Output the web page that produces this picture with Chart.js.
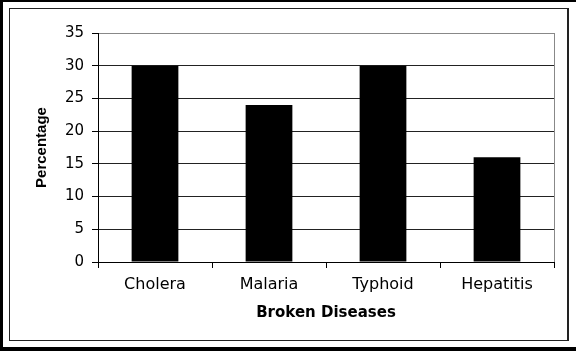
<!DOCTYPE html>
<html>
<head>
<meta charset="utf-8">
<script src="https://cdn.jsdelivr.net/npm/chart.js@4"></script>
<style>
  html, body { margin: 0; padding: 0; background: #fff; }
  #wrap { position: relative; width: 576px; height: 351px; overflow: hidden; }
  /* thick outer frame, then the thin inner box */
  #outer {
    position: absolute; left: 0; top: 0; width: 576px; height: 351px;
    box-sizing: border-box;
    border-top: 2px solid #000; border-left: 3px solid #000; border-bottom: 4px solid #000;
  }
  #inner {
    position: absolute; left: 9px; top: 8px; width: 560px; height: 333px;
    box-sizing: border-box;
    border: 1px solid #222; border-right: 2px solid #222;
  }
  #myChart { position: absolute; left: 0; top: 0; }
</style>
</head>
<body>
<div id="wrap">
  <div id="outer"></div>
  <div id="inner"></div>
  <canvas id="myChart" width="576" height="351"></canvas>
</div>
<script>
// Dados do gráfico
const diseases = ['Cholera', 'Malaria', 'Typhoid', 'Hepatitis'];
const percentages = [30, 24, 30, 16];
const yMax = 35;
const yStep = 5;

const ctx = document.getElementById('myChart').getContext('2d');

new Chart(ctx, {
    type: 'bar',
    data: {
        labels: diseases,
        datasets: [{
            label: 'Percentage',
            data: percentages,
            backgroundColor: '#000',
            borderWidth: 0,
            barPercentage: 0.41,
            categoryPercentage: 1
        }]
    },
    options: {
        responsive: false,
        animation: false,
        layout: {
            padding: { left: 0, top: 33, right: 22, bottom: 0 }
        },
        plugins: {
            legend: { display: false },
            tooltip: { enabled: false }
        },
        scales: {
            x: {
                afterFit: s => { s.height = 89; },
                grid: {
                    offset: true,
                    // a última linha (sem tick) fecha o lado direito do gráfico
                    color: c => c.type === 'tick' ? 'rgba(0,0,0,0)' : '#888',
                    tickColor: '#000',
                    tickLength: 6,
                    lineWidth: 1
                },
                border: { color: '#000', width: 1 },
                ticks: {
                    color: '#000',
                    padding: 7,
                    font: { family: 'DejaVu Sans', size: 16 }
                },
                title: {
                    display: true,
                    text: 'Broken Diseases',
                    color: '#000',
                    padding: { top: 0, bottom: 29 },
                    font: { family: 'DejaVu Sans', size: 15, weight: 'bold', lineHeight: 1.2 }
                }
            },
            y: {
                min: 0,
                max: yMax,
                afterFit: s => { s.width = 98; },
                grid: {
                    color: c => c.tick && c.tick.value === yMax ? '#888' : '#222',
                    tickColor: '#000',
                    tickLength: 6,
                    lineWidth: 1
                },
                border: { color: '#000', width: 1 },
                ticks: {
                    stepSize: yStep,
                    color: '#000',
                    padding: 8,
                    font: { family: 'DejaVu Sans', size: 15 }
                },
                title: {
                    display: true,
                    text: 'Percentage',
                    color: '#000',
                    padding: { top: 33, bottom: 0 },
                    font: { family: 'Liberation Sans', size: 15, weight: 'bold', lineHeight: 1.2 }
                }
            }
        }
    }
});
</script>
</body>
</html>
